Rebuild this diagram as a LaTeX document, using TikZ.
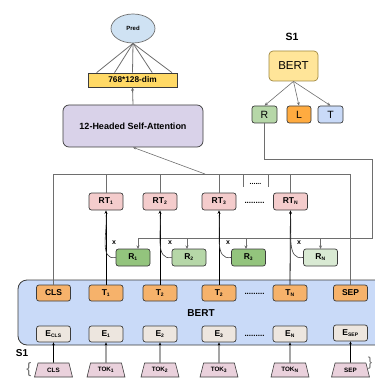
\documentclass[tikz,border=0pt]{standalone}
\usepackage{fontspec}
\setmainfont{Liberation Sans}
\usetikzlibrary{arrows.meta,shapes.geometric,calc}
\definecolor{bordc}{HTML}{3C3C3C}
\definecolor{linec}{HTML}{6E6E6E}
\definecolor{predc}{HTML}{CFE2F3}
\definecolor{dimc}{HTML}{FFD966}
\definecolor{attc}{HTML}{D9D2E9}
\definecolor{rtc}{HTML}{F4CCCC}
\definecolor{gdark}{HTML}{93C47D}
\definecolor{gmid}{HTML}{B6D7A8}
\definecolor{glight}{HTML}{D9EAD3}
\definecolor{tc}{HTML}{F6B26B}
\definecolor{ec}{HTML}{EDE6DF}
\definecolor{bertc}{HTML}{C9DAF8}
\definecolor{tokc}{HTML}{EAD1DC}
\definecolor{sbertc}{HTML}{FFE599}
\definecolor{sbertb}{HTML}{A08840}
\definecolor{lc}{HTML}{FFAB40}
\tikzset{
  bx/.style={draw=bordc, line width=0.7pt, rounded corners=2.5pt, inner sep=0pt, minimum width=34pt, minimum height=16pt, font=\bfseries\fontsize{8.5}{9}\selectfont},
  tok/.style={draw=bordc, line width=0.6pt, trapezium, trapezium stretches=true, trapezium angle=72, inner sep=0pt, minimum width=38pt, minimum height=14pt, fill=tokc, font=\bfseries\fontsize{6.3}{7}\selectfont},
  conn/.style={draw=linec, line width=0.8pt},
  tip/.style={-{Stealth[length=3.5pt,width=3pt]}},
  thick arrow/.style={draw=black, line width=0.8pt, -{Stealth[length=3.5pt,width=3pt]}},
  dotsl/.style={font=\bfseries\fontsize{8}{8}\selectfont, inner sep=0pt},
}
\newcommand{\sbs}[1]{\textsubscript{\fontsize{5}{5}\selectfont #1}}
\begin{document}
\begin{tikzpicture}[x=1pt,y=-1pt]
\useasboundingbox (0,0) rectangle (374,379);

% top part
\node[ellipse, draw=linec, line width=0.7pt, fill=predc, minimum width=44pt, minimum height=29pt, inner sep=0pt, font=\bfseries\fontsize{6}{7}\selectfont] (pred) at (133,28.5) {Pred};
\node[draw=bordc, line width=0.7pt, fill=dimc, minimum width=89pt, minimum height=14pt, inner sep=0pt, font=\bfseries\fontsize{8.3}{9}\selectfont] (dim) at (132.5,80) {768*128-dim};
\foreach \f in {0.1,0.3,0.5,0.72,0.94}{
  \draw[conn] (pred.south) -- ($(dim.north west)!\f!(dim.north east)$);
}
\node[draw=bordc, line width=0.7pt, fill=attc, rounded corners=6pt, minimum width=140pt, minimum height=42pt, inner sep=0pt, font=\bfseries\fontsize{9}{10}\selectfont] (att) at (133,126) {12-Headed Self-Attention};
\draw[conn,tip] (att.north) -- (dim.south);

% S1 top right
\node[font=\bfseries\fontsize{10.5}{11}\selectfont] (s1top) at (292,37) {S1};
\node[draw=sbertb, line width=0.7pt, fill=sbertc, rounded corners=4pt, minimum width=49pt, minimum height=30pt, inner sep=0pt, font=\fontsize{11.5}{12}\selectfont] (sbert) at (293.5,66) {BERT};
\node[bx, fill=gmid, minimum width=25pt, minimum height=17pt, font=\fontsize{10.5}{11}\selectfont] (sR) at (264.5,114.5) {R};
\node[bx, fill=lc, minimum width=24pt, minimum height=17pt, font=\fontsize{10.5}{11}\selectfont] (sL) at (299,114.5) {L};
\node[bx, fill=bertc, minimum width=25pt, minimum height=17pt, font=\fontsize{10.5}{11}\selectfont] (sT) at (330.5,114.5) {T};
\draw[conn,tip,line width=0.6pt] (sbert.south) -- (sR.north);
\draw[conn,tip,line width=0.6pt] (sbert.south) -- (sL.north);
\draw[conn,tip,line width=0.6pt] (sbert.south) -- (sT.north);

% BERT big box
\node[draw=bordc, line width=0.8pt, fill=bertc, rounded corners=9pt, minimum width=400pt, minimum height=65pt, inner sep=0pt] (bert) at (218,312.5) {};
\node[font=\bfseries\fontsize{10}{11}\selectfont] (bertlbl) at (201,313) {BERT};

% T row
\node[bx, fill=tc] (cls) at (53.5,293) {CLS};
\node[bx, fill=tc] (t1) at (106,293) {T\sbs{1}};
\node[bx, fill=tc] (t2) at (160,293) {T\sbs{2}};
\node[bx, fill=tc] (t3) at (219,293) {T\sbs{2}};
\node[bx, fill=tc] (tn) at (290,293) {T\sbs{N}};
\node[bx, fill=tc] (sep) at (350.5,293) {SEP};
\node[dotsl] (dt) at (254.5,294) {.........};

% E row
\node[bx, fill=ec] (ecls) at (53.5,334) {E\sbs{CLS}};
\node[bx, fill=ec] (e1) at (106,334) {E\sbs{1}};
\node[bx, fill=ec] (e2) at (160,334) {E\sbs{2}};
\node[bx, fill=ec] (e3) at (219,334) {E\sbs{3}};
\node[bx, fill=ec] (en) at (290,334) {E\sbs{N}};
\node[bx, fill=ec] (esep) at (350.5,333) {E\sbs{SEP}};
\node[dotsl] (de) at (254.5,336) {.........};

% tokens
\node[tok] (kcls) at (53.5,370) {CLS};
\node[tok] (k1) at (106,370) {TOK\sbs{1}};
\node[tok] (k2) at (160,370) {TOK\sbs{2}};
\node[tok] (k3) at (219,370) {TOK\sbs{3}};
\node[tok] (kn) at (290,370) {TOK\sbs{N}};
\node[tok] (ksep) at (350.5,370) {SEP};
\foreach \a/\b in {kcls/ecls,k1/e1,k2/e2,k3/e3,kn/en,ksep/esep}{
  \draw[draw=black, line width=0.6pt, -{Stealth[length=3pt,width=2.5pt]}] (\a.north) -- (\b.south);
}
\node[font=\bfseries\fontsize{10}{11}\selectfont] (s1left) at (22,353) {S1};
\node[font=\fontsize{15}{15}\selectfont, text=linec, inner sep=0pt] (brl) at (29,370) {\{};
\node[font=\fontsize{13}{13}\selectfont, text=linec, inner sep=0pt] (brr) at (370,363) {\}};

% RT row
\node[bx, fill=rtc, minimum height=17pt] (rt1) at (106,201.5) {RT\sbs{1}};
\node[bx, fill=rtc, minimum height=17pt] (rt2) at (160,201.5) {RT\sbs{2}};
\node[bx, fill=rtc, minimum height=17pt] (rt3) at (219,201.5) {RT\sbs{3}};
\node[bx, fill=rtc, minimum height=17pt] (rtn) at (290.5,201.5) {RT\sbs{N}};
\node[dotsl] (drt) at (254.5,203) {.........};

% top horizontal line
\coordinate (hl) at (53.5,174);
\coordinate (hr) at (350.5,174);
\draw[conn] (cls.north) -- (hl) -- (hr) -- (sep.north);
\foreach \n in {rt1,rt2,rt3,rtn}{
  \draw[conn] (\n.north) -- (\n.north |- hl);
}
\coordinate (sa) at (243,174);
\coordinate (sb) at (268,174);
\coordinate (sa2) at (243,187);
\coordinate (sb2) at (268,187);
\draw[conn] (sa) -- (sa2);
\draw[conn] (sb) -- (sb2);
\node[dotsl, font=\bfseries\fontsize{7}{7}\selectfont] (dtop) at (255.5,184) {......};
\coordinate (attj) at (205,174);
\draw[conn,line width=0.6pt,-{Stealth[length=3pt,width=2.5pt]}] (attj) -- (att.south);

% R row
\node[bx, fill=gdark, minimum height=17pt] (r1) at (133,257.5) {R\sbs{1}};
\node[bx, fill=gmid, minimum height=17pt] (r2) at (189,257.5) {R\sbs{2}};
\node[bx, fill=gdark, minimum height=17pt] (r3) at (248.5,257.5) {R\sbs{3}};
\node[bx, fill=glight, minimum height=17pt] (rn) at (320.5,257.5) {R\sbs{N}};

% line from S1 R to R boxes
\coordinate (c1) at (264.5,159);
\coordinate (c2) at (372,159);
\coordinate (c3) at (372,238);
\coordinate (c4) at (138,238);
\draw[conn] (sR.south) -- (c1) -- (c2) -- (c3) -- (c4);
\draw[conn,tip,line width=0.7pt] (c4) -- (138,249);
\draw[conn,tip,line width=0.7pt] (187,238) -- (187,249);
\draw[conn,tip,line width=0.7pt] (246,238) -- (246,249);
\draw[conn,tip,line width=0.7pt] (320.5,238) -- (320.5,249);

% thick arrows T -> RT
\foreach \a/\b in {t1/rt1,t2/rt2,t3/rt3,tn/rtn}{
  \draw[thick arrow] (\a.north) -- (\b.south);
}

% x curves
\foreach \r/\t/\xx in {r1/rt1/114,r2/rt2/170,r3/rt3/228,rn/rtn/299}{
  \coordinate (j\r) at ($(\t.south)+(0,5)$);
  \draw[draw=bordc, line width=0.6pt] (\r.west) to[out=190,in=-85] (j\r);
  \node[font=\bfseries\fontsize{7}{7}\selectfont, inner sep=0pt] (x\r) at (\xx,243) {x};
}
\end{tikzpicture}
\end{document}
